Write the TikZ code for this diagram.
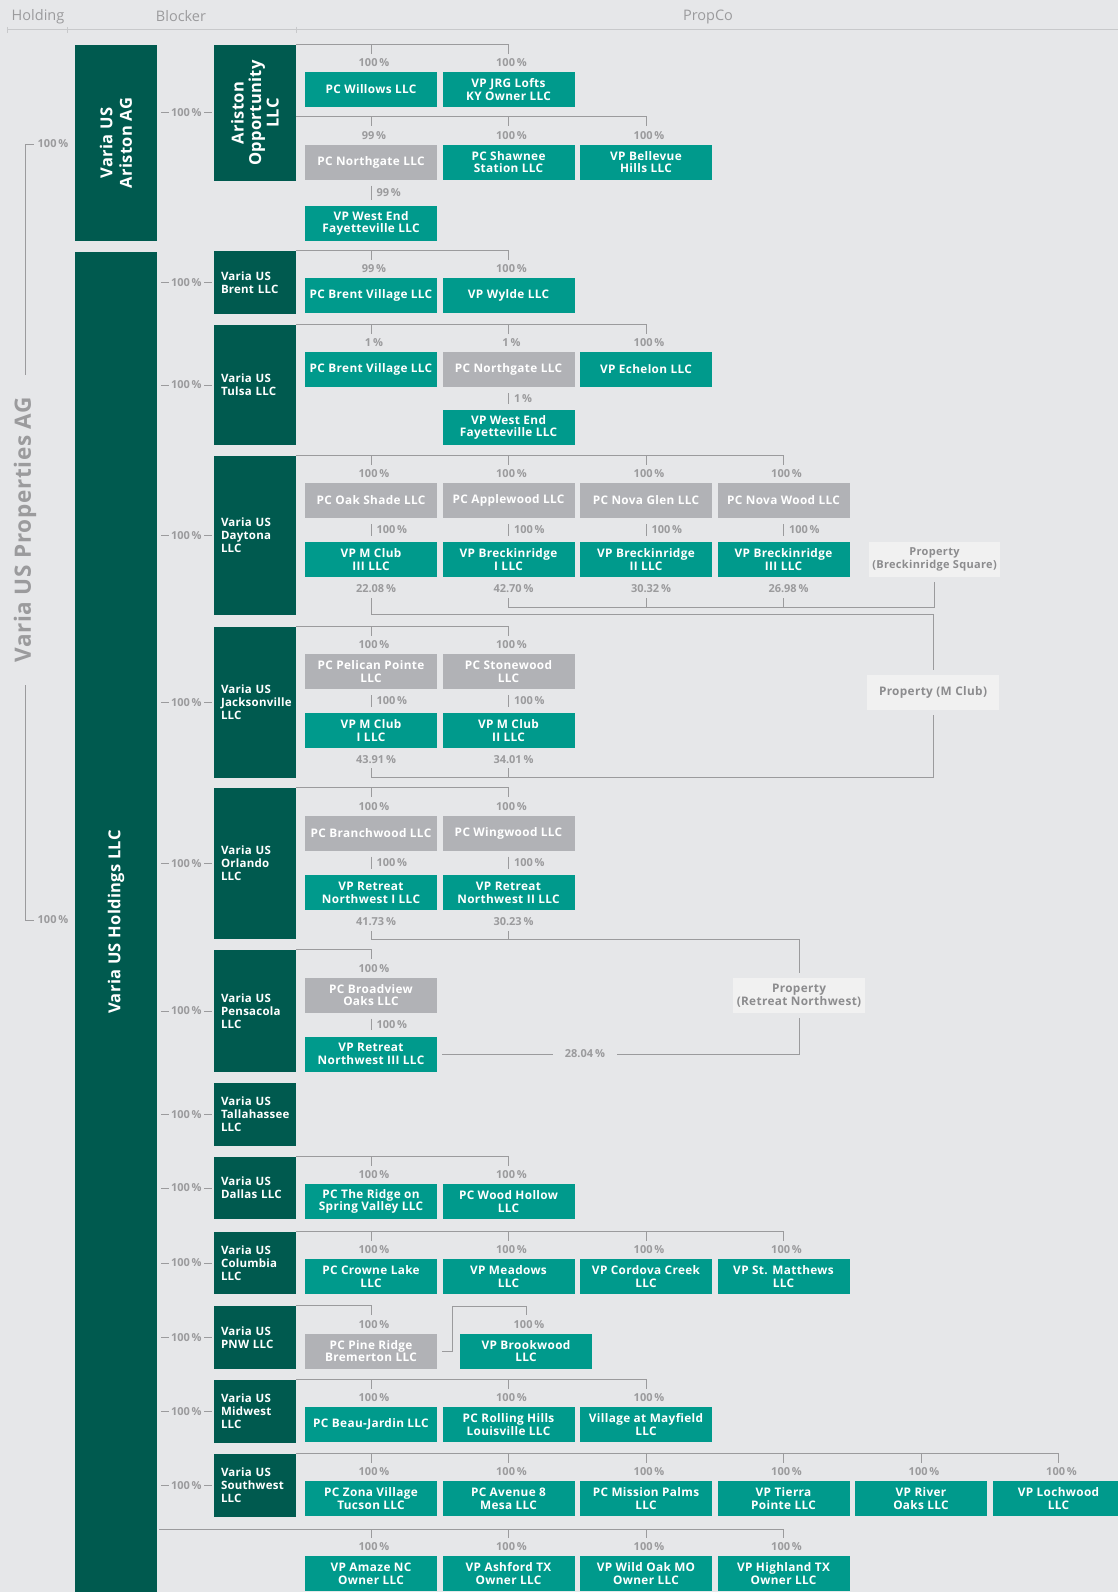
\documentclass[tikz,border=0pt]{standalone}
\usepackage{fontspec}
\setmainfont{Open Sans}
\newfontfamily\myboxfont[LetterSpace=3]{Open Sans}
\newfontfamily\myblkfont[LetterSpace=2]{Open Sans}
\definecolor{bg}{RGB}{230,231,233}
\definecolor{dkg}{RGB}{0,90,79}
\definecolor{tl}{RGB}{0,154,140}
\definecolor{gb}{RGB}{177,178,182}
\definecolor{pg}{RGB}{241,241,241}
\definecolor{lg}{RGB}{155,155,157}
\definecolor{tg}{RGB}{140,140,142}
\definecolor{hlc}{RGB}{200,201,203}
\tikzset{
  base/.style={inner sep=0pt, align=center, text=white, minimum width=132pt, minimum height=35pt,
    font=\myboxfont\fontsize{11.8}{12.8}\selectfont\bfseries},
  tbox/.style={base, fill=tl},
  gbox/.style={base, fill=gb},
  prop/.style={base, fill=pg, text=tg},
  blk/.style={fill=dkg, text=white, inner xsep=7pt, inner ysep=0pt, text width=68pt, align=left,
    font=\myblkfont\fontsize{11.5}{13}\selectfont\bfseries},
  rblk/.style={fill=dkg, text=white, inner sep=0pt, align=center, rotate=90, minimum height=82pt},
  pct/.style={text=lg, inner sep=1pt, font=\fontsize{11}{12}\selectfont\bfseries},
  ln/.style={draw=lg, line width=1pt},
  hl/.style={draw=hlc, line width=1pt},
  hdr/.style={text=lg, font=\fontsize{14.5}{16}\selectfont},
}
\newcommand\tick[2]{\draw[ln] (#1.north |- #2) -- ++(0,9);}
\newcommand\pa[2]{\node[pct] at ([xshift=3pt,yshift=9pt]#1.north) {#2};}
\newcommand\pb[2]{\node[pct] at ([xshift=5pt,yshift=-11pt]#1.south) {#2};}
\newcommand\vl[3]{\draw[ln] ([yshift=-6pt]#1.south) -- node[pct,right,xshift=4pt]{#3} ([yshift=6pt]#2.north);}
\newcommand\hlink[1]{\draw[ln] ([xshift=-2pt]#1) -- ++(-51,0) node[midway,pct,fill=bg,inner xsep=2pt]{100\,\%};}
\begin{document}
\begin{tikzpicture}[x=1pt,y=-1pt]
\useasboundingbox (0,0) rectangle (1118,1592);
\fill[bg] (0,0) rectangle (1118,1592);
% header
\node[hdr] (hH) at (38,16.5) {Holding};
\node[hdr] (hB) at (181,16.5) {Blocker};
\node[hdr] (hP) at (708,16.5) {PropCo};
\draw[hl] (7,30) -- (1118,30);
\foreach \x in {7,67,296} \draw[hl] (\x,27) -- (\x,33);
% holding level
\node[text=lg, rotate=90, inner sep=0pt, font=\myboxfont\fontsize{22.5}{24}\selectfont\bfseries] (vuspa) at (25,530) {Varia US Properties AG};
\node[pct] (h1) at (53,144) {100\,\%};
\node[pct] (h2) at (53,920) {100\,\%};
\draw[ln, shorten >=22pt] ([xshift=-3pt]h1.west) -| (vuspa.east);
\draw[ln, shorten >=22pt] ([xshift=-3pt]h2.west) -| (vuspa.west);
\node[rblk, minimum width=196pt, font=\myblkfont\fontsize{16.5}{19.5}\selectfont\bfseries] (AG) at (116,143) {Varia US\\Ariston AG};
\node[rblk, minimum width=1340pt, font=\myblkfont\fontsize{16.5}{19.5}\selectfont\bfseries] (HOLD) at (116,922) {Varia US Holdings LLC};
% blockers
\node[rblk, minimum width=136pt, font=\myblkfont\fontsize{16.5}{17.5}\selectfont\bfseries] (AO) at (255,113) {Ariston\\Opportunity\\LLC};
\node[blk, minimum height=63pt] (BR) at (255,282.5) {Varia US\\Brent LLC};
\node[blk, minimum height=120pt] (TU) at (255,385) {Varia US\\Tulsa LLC};
\node[blk, minimum height=159pt] (DA) at (255,535.5) {Varia US\\Daytona\\LLC};
\node[blk, minimum height=151pt] (JA) at (255,702.5) {Varia US\\Jacksonville\\LLC};
\node[blk, minimum height=151pt] (OR) at (255,863.5) {Varia US\\Orlando\\LLC};
\node[blk, minimum height=122pt] (PE) at (255,1011) {Varia US\\Pensacola\\LLC};
\node[blk, minimum height=63pt] (TA) at (255,1114.5) {Varia US\\Tallahassee\\LLC};
\node[blk, minimum height=62pt] (DL) at (255,1188) {Varia US\\Dallas LLC};
\node[blk, minimum height=62pt] (CO) at (255,1263) {Varia US\\Columbia\\LLC};
\node[blk, minimum height=63pt] (PN) at (255,1337.5) {Varia US\\PNW LLC};
\node[blk, minimum height=63pt] (MW) at (255,1411.5) {Varia US\\Midwest\\LLC};
\node[blk, minimum height=63pt] (SW) at (255,1485.5) {Varia US\\Southwest\\LLC};
\hlink{AO.north}
\foreach \b in {BR,TU,DA,JA,OR,PE,TA,DL,CO,PN,MW,SW} {\hlink{\b.west}}
% ---------- Ariston
\node[tbox] (a1) at (371,89.5) {PC Willows LLC};
\node[tbox] (a2) at (508.5,89.5) {VP JRG Lofts\\KY Owner LLC};
\node[gbox] (a3) at (371,162) {PC Northgate LLC};
\node[tbox] (a4) at (508.5,162) {PC Shawnee\\Station LLC};
\node[tbox] (a5) at (646,162) {VP Bellevue\\Hills LLC};
\node[tbox] (a6) at (371,223.5) {VP West End\\Fayetteville LLC};
\coordinate (cA1) at (296,45);
\coordinate (cA2) at (296,117);
\draw[ln] (cA1) -- (a2.north |- cA1) -- ++(0,9); \tick{a1}{cA1}
\draw[ln] (cA2) -- (a5.north |- cA2) -- ++(0,9); \tick{a3}{cA2} \tick{a4}{cA2}
\pa{a1}{100\,\%} \pa{a2}{100\,\%} \pa{a3}{99\,\%} \pa{a4}{100\,\%} \pa{a5}{100\,\%}
\vl{a3}{a6}{99\,\%}
% ---------- Brent
\node[tbox] (br1) at (371,295.5) {PC Brent Village LLC};
\node[tbox] (br2) at (508.5,295.5) {VP Wylde LLC};
\coordinate (cBR) at (BR.north east);
\draw[ln] (cBR) -- (br2.north |- cBR) -- ++(0,9); \tick{br1}{cBR}
\pa{br1}{99\,\%} \pa{br2}{100\,\%}
% ---------- Tulsa
\node[tbox] (t1) at (371,369.5) {PC Brent Village LLC};
\node[gbox] (t2) at (508.5,369.5) {PC Northgate LLC};
\node[tbox] (t3) at (646,369.5) {VP Echelon LLC};
\node[tbox] (t4) at (508.5,427.5) {VP West End\\Fayetteville LLC};
\coordinate (cTU) at (TU.north east);
\draw[ln] (cTU) -- (t3.north |- cTU) -- ++(0,9); \tick{t1}{cTU} \tick{t2}{cTU}
\pa{t1}{1\,\%} \pa{t2}{1\,\%} \pa{t3}{100\,\%}
\vl{t2}{t4}{1\,\%}
% ---------- Daytona
\node[gbox] (d1) at (371,500.5) {PC Oak Shade LLC};
\node[gbox] (d2) at (508.5,500.5) {PC Applewood LLC};
\node[gbox] (d3) at (646,500.5) {PC Nova Glen LLC};
\node[gbox] (d4) at (783.5,500.5) {PC Nova Wood LLC};
\node[tbox] (d5) at (371,559.5) {VP M Club\\III LLC};
\node[tbox] (d6) at (508.5,559.5) {VP Breckinridge\\I LLC};
\node[tbox] (d7) at (646,559.5) {VP Breckinridge\\II LLC};
\node[tbox] (d8) at (783.5,559.5) {VP Breckinridge\\III LLC};
\node[prop, minimum width=131pt, font=\myboxfont\fontsize{11}{12.8}\selectfont\bfseries] (pB) at (934.5,559.5) {Property\\(Breckinridge Square)};
\coordinate (cDA) at (DA.north east);
\draw[ln] (cDA) -- (d4.north |- cDA) -- ++(0,9); \tick{d1}{cDA} \tick{d2}{cDA} \tick{d3}{cDA}
\pa{d1}{100\,\%} \pa{d2}{100\,\%} \pa{d3}{100\,\%} \pa{d4}{100\,\%}
\vl{d1}{d5}{100\,\%} \vl{d2}{d6}{100\,\%} \vl{d3}{d7}{100\,\%} \vl{d4}{d8}{100\,\%}
\pb{d5}{22.08\,\%} \pb{d6}{42.70\,\%} \pb{d7}{30.32\,\%} \pb{d8}{26.98\,\%}
% ---------- Jacksonville
\node[gbox] (j1) at (371,671.5) {PC Pelican Pointe\\LLC};
\node[gbox] (j2) at (508.5,671.5) {PC Stonewood\\LLC};
\node[tbox] (j3) at (371,730.5) {VP M Club\\I LLC};
\node[tbox] (j4) at (508.5,730.5) {VP M Club\\II LLC};
\node[prop] (pM) at (933,692.5) {Property (M Club)};
\coordinate (cJA) at (JA.north east);
\draw[ln] (cJA) -- (j2.north |- cJA) -- ++(0,9); \tick{j1}{cJA}
\pa{j1}{100\,\%} \pa{j2}{100\,\%}
\vl{j1}{j3}{100\,\%} \vl{j2}{j4}{100\,\%}
\pb{j3}{43.91\,\%} \pb{j4}{34.01\,\%}
% property lines (Breckinridge / M Club)
\draw[ln] ([yshift=-21pt]d6.south) -- ++(0,9) -| ([yshift=-5pt]pB.south);
\draw[ln] ([yshift=-21pt]d7.south) -- ++(0,9);
\draw[ln] ([yshift=-21pt]d8.south) -- ++(0,9);
\draw[ln] ([yshift=-21pt]d5.south) -- ++(0,16) -| ([yshift=5pt]pM.north);
\draw[ln] ([yshift=-20pt]j3.south) -- ++(0,9) -| ([yshift=-5pt]pM.south);
\draw[ln] ([yshift=-20pt]j4.south) -- ++(0,9);
% ---------- Orlando
\node[gbox] (o1) at (371,833) {PC Branchwood LLC};
\node[gbox] (o2) at (508.5,833) {PC Wingwood LLC};
\node[tbox] (o3) at (371,892.5) {VP Retreat\\Northwest I LLC};
\node[tbox] (o4) at (508.5,892.5) {VP Retreat\\Northwest II LLC};
\node[prop] (pR) at (799,995.5) {Property\\(Retreat Northwest)};
\coordinate (cOR) at (OR.north east);
\draw[ln] (cOR) -- (o2.north |- cOR) -- ++(0,9); \tick{o1}{cOR}
\pa{o1}{100\,\%} \pa{o2}{100\,\%}
\vl{o1}{o3}{100\,\%} \vl{o2}{o4}{100\,\%}
\pb{o3}{41.73\,\%} \pb{o4}{30.23\,\%}
\draw[ln] ([yshift=-21pt]o3.south) -- ++(0,8) -| ([yshift=5pt]pR.north);
\draw[ln] ([yshift=-21pt]o4.south) -- ++(0,8);
% ---------- Pensacola
\node[gbox] (p1) at (371,995) {PC Broadview\\Oaks LLC};
\node[tbox] (p2) at (371,1054) {VP Retreat\\Northwest III LLC};
\coordinate (cPE) at (PE.north east);
\draw[ln] (cPE) -- (p1.north |- cPE) -- ++(0,9);
\pa{p1}{100\,\%}
\vl{p1}{p2}{100\,\%}
\draw[ln] ([xshift=5pt]p2.east) -- node[pos=0.4,pct,fill=bg,inner xsep=12pt]{28.04\,\%} (p2.east -| pR.south) -- ([yshift=-5pt]pR.south);
% ---------- Dallas
\node[tbox] (dl1) at (371,1201.5) {PC The Ridge on\\Spring Valley LLC};
\node[tbox] (dl2) at (508.5,1201.5) {PC Wood Hollow\\LLC};
\coordinate (cDL) at (DL.north east);
\draw[ln] (cDL) -- (dl2.north |- cDL) -- ++(0,9); \tick{dl1}{cDL}
\pa{dl1}{100\,\%} \pa{dl2}{100\,\%}
% ---------- Columbia
\node[tbox] (co1) at (371,1276.5) {PC Crowne Lake\\LLC};
\node[tbox] (co2) at (508.5,1276.5) {VP Meadows\\LLC};
\node[tbox] (co3) at (646,1276.5) {VP Cordova Creek\\LLC};
\node[tbox] (co4) at (783.5,1276.5) {VP St. Matthews\\LLC};
\coordinate (cCO) at (CO.north east);
\draw[ln] (cCO) -- (co4.north |- cCO) -- ++(0,9); \tick{co1}{cCO} \tick{co2}{cCO} \tick{co3}{cCO}
\pa{co1}{100\,\%} \pa{co2}{100\,\%} \pa{co3}{100\,\%} \pa{co4}{100\,\%}
% ---------- PNW
\node[gbox] (pn1) at (371,1351) {PC Pine Ridge\\Bremerton LLC};
\node[tbox] (pn2) at (526,1351) {VP Brookwood\\LLC};
\coordinate (cPN) at (PN.north east);
\draw[ln] (cPN) -- (pn1.north |- cPN) -- ++(0,9);
\draw[ln] ([xshift=5pt]pn1.east) -- ++(10,0) -- ++(0,-45) -| ([yshift=18pt]pn2.north);
\pa{pn1}{100\,\%} \pa{pn2}{100\,\%}
% ---------- Midwest
\node[tbox] (m1) at (371,1424.5) {PC Beau-Jardin LLC};
\node[tbox] (m2) at (508.5,1424.5) {PC Rolling Hills\\Louisville LLC};
\node[tbox] (m3) at (646,1424.5) {Village at Mayfield\\LLC};
\coordinate (cMW) at (MW.north east);
\draw[ln] (cMW) -- (m3.north |- cMW) -- ++(0,9); \tick{m1}{cMW} \tick{m2}{cMW}
\pa{m1}{100\,\%} \pa{m2}{100\,\%} \pa{m3}{100\,\%}
% ---------- Southwest
\node[tbox] (s1) at (371,1498.5) {PC Zona Village\\Tucson LLC};
\node[tbox] (s2) at (508.5,1498.5) {PC Avenue 8\\Mesa LLC};
\node[tbox] (s3) at (646,1498.5) {PC Mission Palms\\LLC};
\node[tbox] (s4) at (783.5,1498.5) {VP Tierra\\Pointe LLC};
\node[tbox] (s5) at (921,1498.5) {VP River\\Oaks LLC};
\node[tbox] (s6) at (1058.5,1498.5) {VP Lochwood\\LLC};
\coordinate (cSW) at (SW.north east);
\draw[ln] (cSW) -- (s6.north |- cSW) -- ++(0,9);
\foreach \b in {s1,s2,s3,s4,s5} {\tick{\b}{cSW}}
\foreach \b in {s1,s2,s3,s4,s5,s6} {\pa{\b}{100\,\%}}
% ---------- direct holdings
\node[tbox] (b1) at (371,1573.5) {VP Amaze NC\\Owner LLC};
\node[tbox] (b2) at (508.5,1573.5) {VP Ashford TX\\Owner LLC};
\node[tbox] (b3) at (646,1573.5) {VP Wild Oak MO\\Owner LLC};
\node[tbox] (b4) at (783.5,1573.5) {VP Highland TX\\Owner LLC};
\coordinate (cHO) at ([xshift=2pt]HOLD.south |- 0,1529);
\draw[ln] (cHO) -- (b4.north |- cHO) -- ++(0,9);
\foreach \b in {b1,b2,b3} {\tick{\b}{cHO}}
\foreach \b in {b1,b2,b3,b4} {\pa{\b}{100\,\%}}
\end{tikzpicture}
\end{document}
